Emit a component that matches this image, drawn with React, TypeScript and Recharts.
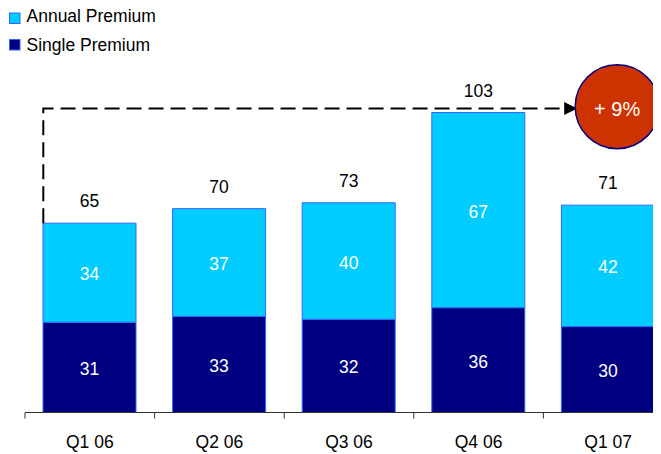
import React from 'react';
import {
  BarChart,
  Bar,
  XAxis,
  YAxis,
  Legend,
  LabelList,
  ReferenceLine,
  ReferenceDot,
} from 'recharts';

const quarters = ['Q1 06', 'Q2 06', 'Q3 06', 'Q4 06', 'Q1 07'];
const singlePremium = [31, 33, 32, 36, 29.5];
const annualPremium = [34, 37, 40, 67, 41.7];
const totals = [65, 70, 73, 103, 71];
const growthLabel = '+ 9%';
const arrowLevel = 104.4;
const badgeLevel = 105;

const data = quarters.map((quarter, i) => ({
  quarter,
  single: singlePremium[i],
  annual: annualPremium[i],
  total: totals[i],
}));

const FONT = '"Liberation Sans", Arial, sans-serif';
const FS = 17.5;
const CYAN = '#00CCFF';
const NAVY = '#000080';
const EDGE = '#3366FF';

const CHART_W = 665;
const CHART_H = 446;
const MARGIN = { top: 55, right: 0, left: 17, bottom: 0 };
const BAR = 93;
const BAND = (CHART_W - MARGIN.left - MARGIN.right) / quarters.length;
const BADGE_R = 42;
const BADGE_DX = 9;

// legend box sits 6px above the chart's top so the first line isn't clipped
const LegendBox = () => (
  <svg width={200} height={62} style={{ display: 'block', overflow: 'visible' }}>
    <rect x={1.5} y={11} width={10.5} height={10.5} fill={CYAN} stroke={EDGE} strokeWidth={1} />
    <text x={18.5} y={20} fontSize={FS} fontFamily={FONT} fill="#000">
      Annual Premium
    </text>
    <rect x={1.5} y={37.5} width={10.5} height={10.5} fill={NAVY} stroke={EDGE} strokeWidth={1} />
    <text x={18.5} y={48.5} fontSize={FS} fontFamily={FONT} fill="#000">
      Single Premium
    </text>
  </svg>
);

const QuarterTick = (props: any) => {
  const { x, y, payload } = props;
  const edge = x - BAND / 2;
  return (
    <g>
      <line x1={edge} y1={y} x2={edge} y2={y + 6} stroke="#333" strokeWidth={1} />
      <text x={x} y={y + 35} textAnchor="middle" fontSize={FS} fontFamily={FONT} fill="#000">
        {payload.value}
      </text>
    </g>
  );
};

const SegmentLabel = (props: any) => {
  const { x, y, width, height, value } = props;
  return (
    <text
      x={x + width / 2}
      y={y + height / 2 + 7.5}
      textAnchor="middle"
      fontSize={FS}
      fontFamily={FONT}
      fill="#fff"
    >
      {Math.round(value)}
    </text>
  );
};

const TotalLabel = (props: any) => {
  const { x, y, width, value } = props;
  return (
    <text x={x + width / 2} y={y - 16} textAnchor="middle" fontSize={FS} fontFamily={FONT} fill="#000">
      {value}
    </text>
  );
};

const GrowthArrow = (props: any) => {
  const { x1, y1, x2, y2 } = props;
  const left = x1 - BAR / 2;
  const tip = x2 + BADGE_DX - BADGE_R + 2;
  return (
    <g>
      <path
        d={`M${left},${y1} V${y2} H${tip - 12}`}
        fill="none"
        stroke="#000"
        strokeWidth={2}
        strokeDasharray="15 7"
      />
      <polygon points={`${tip},${y2} ${tip - 13},${y2 - 6.5} ${tip - 13},${y2 + 6.5}`} fill="#000" />
    </g>
  );
};

const GrowthBadge = (props: any) => {
  const { cx, cy } = props;
  const x = cx + BADGE_DX;
  return (
    <g>
      <circle cx={x} cy={cy} r={BADGE_R} fill="#CC3300" stroke={NAVY} strokeWidth={1.5} />
      <text x={x} y={cy + 9} textAnchor="middle" fontSize={20} fontFamily={FONT} fill="#fff">
        {growthLabel}
      </text>
    </g>
  );
};

export default function App() {
  // negative margin cancels the body margin; padding puts the chart back at 8px
  return (
    <div
      style={{
        marginTop: -8,
        paddingTop: 8,
        width: 653,
        height: CHART_H,
        overflow: 'hidden',
        position: 'relative',
      }}
    >
      <BarChart width={CHART_W} height={CHART_H} data={data} margin={MARGIN}>
        <XAxis
          dataKey="quarter"
          height={41.5}
          axisLine={{ stroke: '#333', strokeWidth: 1 }}
          tickLine={false}
          tickSize={0}
          tickMargin={0}
          interval={0}
          tick={<QuarterTick />}
        />
        <YAxis hide domain={[0, 120]} />
        <Legend
          layout="vertical"
          align="center"
          verticalAlign="middle"
          wrapperStyle={{ top: -6, left: 0, width: 200, height: 62 }}
          content={<LegendBox />}
        />
        <Bar
          dataKey="single"
          stackId="premium"
          fill={NAVY}
          stroke={EDGE}
          strokeWidth={1}
          barSize={BAR}
          isAnimationActive={false}
        >
          <LabelList dataKey="single" content={<SegmentLabel />} />
        </Bar>
        <Bar
          dataKey="annual"
          stackId="premium"
          fill={CYAN}
          stroke={EDGE}
          strokeWidth={1}
          barSize={BAR}
          isAnimationActive={false}
        >
          <LabelList dataKey="annual" content={<SegmentLabel />} />
          <LabelList dataKey="total" content={<TotalLabel />} />
        </Bar>
        <ReferenceLine
          segment={[
            { x: quarters[0], y: totals[0] },
            { x: quarters[quarters.length - 1], y: arrowLevel },
          ]}
          shape={<GrowthArrow />}
        />
        <ReferenceDot
          x={quarters[quarters.length - 1]}
          y={badgeLevel}
          r={BADGE_R}
          shape={<GrowthBadge />}
        />
      </BarChart>
    </div>
  );
}
